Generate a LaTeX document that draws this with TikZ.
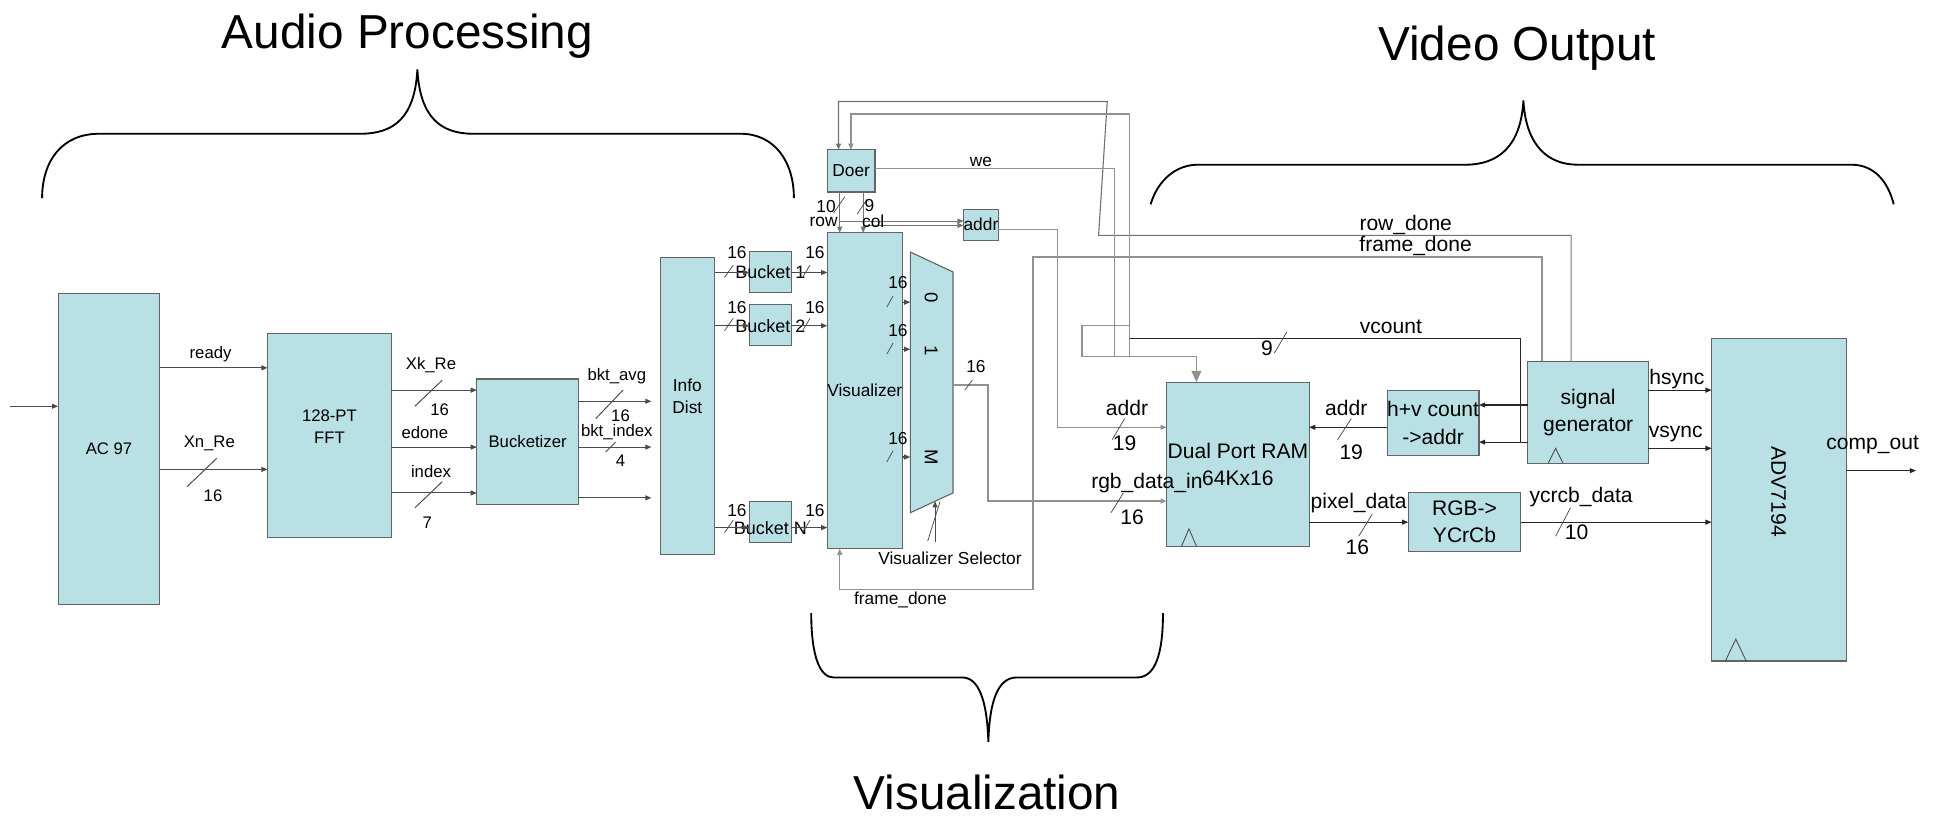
\documentclass[tikz,border=0pt]{standalone}
\usepackage{fontspec}
\setmainfont{Liberation Sans}
\usetikzlibrary{arrows.meta,calc}
\definecolor{boxfill}{RGB}{185,224,228}
\definecolor{boxline}{RGB}{100,100,100}
\definecolor{wdark}{RGB}{75,75,75}
\definecolor{wgray}{RGB}{145,145,145}
\definecolor{wmid}{RGB}{115,115,115}
\newcommand\fsL{\fontsize{13.5}{17}\selectfont}
\newcommand\fsA{\fontsize{14}{17}\selectfont}
\newcommand\fsK{\fontsize{14.5}{17}\selectfont}
\newcommand\fsB{\fontsize{17}{22}\selectfont}
\newcommand\fsH{\fontsize{38.5}{44}\selectfont}
\begin{document}
\begin{tikzpicture}[x=1pt,y=-1pt,
 blk/.style={draw=boxline,fill=boxfill,line width=0.9pt,inner sep=0pt,outer sep=0pt,anchor=north west,align=center},
 wire/.style={draw=wdark,line width=0.9pt},
 gwire/.style={draw=wgray,line width=1.1pt},
 mwire/.style={draw=wmid,line width=0.9pt},
 kwire/.style={draw=black!85,line width=0.9pt},
 arr/.style={-{Triangle[length=5pt,width=4pt]}},
 bigarr/.style={-{Triangle[length=9pt,width=8pt]}},
 lbl/.style={inner sep=0pt,font=\fsA,align=center},
 lblL/.style={inner sep=0pt,font=\fsL,align=center},
 lblB/.style={inner sep=0pt,font=\fsB,align=center},
 slashln/.style={draw=wdark,line width=0.8pt},
 brace/.style={draw=black,line width=1.5pt},
 clk/.style={draw=wdark,line width=0.7pt}
]
\useasboundingbox (0,0) rectangle (1568,660);

% ---------- braces and headers ----------
\draw[brace] (34,160) .. controls (34,130) and (50,108) .. (80,108) -- (291,108)
  .. controls (318,108) and (335,95) .. (337,56)
  .. controls (339,95) and (356,108) .. (382,108) -- (598,108)
  .. controls (625,108) and (641,130) .. (641,160);
\draw[brace] (929,165) .. controls (935,145) and (950,133) .. (967,133) -- (1183,133)
  .. controls (1210,133) and (1228,118) .. (1230,81)
  .. controls (1232,118) and (1250,133) .. (1274,133) -- (1495,133)
  .. controls (1512,133) and (1524,145) .. (1529,165);
\draw[brace] (655,495) .. controls (655,530) and (662,547) .. (673,547) -- (777,547)
  .. controls (790,547) and (797,565) .. (798,599)
  .. controls (799,565) and (806,547) .. (821,547) -- (918,547)
  .. controls (932,547) and (939,530) .. (939,495);
\node[font=\fsH,anchor=base,inner sep=0pt] (hA) at (329,39) {Audio Processing};
\node[font=\fsH,anchor=base,inner sep=0pt] (hV) at (1225,49) {Video Output};
\node[font=\fsH,anchor=base,inner sep=0pt] (hZ) at (797,654) {Visualization};

% ---------- blocks ----------
\node[blk,font=\fsL,minimum width=82pt,minimum height=251pt] (ac97) at (47,237) {AC 97};
\node[blk,minimum width=100pt,minimum height=165pt] (fft) at (216,269) {};
\node[lblL] (tfft) at (266,344.5) {128-PT\\FFT};
\node[blk,font=\fsL,minimum width=82pt,minimum height=101pt] (buck) at (385,306) {Bucketizer};
\node[blk,minimum width=44pt,minimum height=240pt] (info) at (533,208) {};
\node[lbl] (tinfo) at (555,320) {Info\\Dist};
\node[blk,minimum width=34pt,minimum height=33pt] (b1) at (605,203) {};
\node[blk,minimum width=34pt,minimum height=33pt] (b2) at (605,246) {};
\node[blk,minimum width=34pt,minimum height=33pt] (bN) at (605,405) {};
\node[blk,font=\fsA,minimum width=38.5pt,minimum height=255pt] (vis) at (668,188) {Visualizer};
\node[blk,font=\fsA,minimum width=38.5pt,minimum height=34pt] (doer) at (668,121) {Doer};
\node[blk,font=\fsA,minimum width=24.6pt,minimum height=25pt] (addr) at (778,169) {addr};
\filldraw[draw=boxline,fill=boxfill,line width=0.9pt] (735,203.5) -- (769.5,219.6) -- (769.5,398) -- (735,414) -- cycle;
\coordinate (muxL) at (735,300);
\coordinate (muxB) at (755,404.7);
\node[blk,font=\fsB,minimum width=115pt,minimum height=132.5pt] (ram) at (942,308.5) {Dual Port RAM\\64Kx16};
\node[blk,font=\fsB,minimum width=73.6pt,minimum height=53pt] (hv) at (1120,315) {h+v count\\->addr};
\node[blk,font=\fsB,minimum width=91pt,minimum height=47pt] (rgb) at (1137,398) {RGB->\\YCrCb};
\node[blk,font=\fsB,minimum width=97.4pt,minimum height=82.4pt] (sg) at (1233.6,291.6) {signal\\generator};
\node[blk,minimum width=108.6pt,minimum height=260.7pt] (adv) at (1382,273) {};
\node[lblB,rotate=-90] (tadv) at (1436,397) {ADV7194};

% bucket texts (overflow the boxes)
\node[inner sep=0pt,font=\fsK] (tb1) at (622,220) {Bucket 1};
\node[inner sep=0pt,font=\fsK] (tb2) at (622,263) {Bucket 2};
\node[inner sep=0pt,font=\fsK] (tbN) at (622,426) {Bucket N};

% mux texts
\node[inner sep=0pt,font=\fontsize{15}{17}\selectfont,rotate=-90] (m0) at (752,240) {0};
\node[inner sep=0pt,font=\fontsize{15}{17}\selectfont,rotate=-90] (m1) at (752,283) {1};
\node[inner sep=0pt,font=\fontsize{15}{17}\selectfont,rotate=-90] (mM) at (752,369) {M};

% clock triangles
\draw[clk] (954,441) -- (960,427) -- (966,441);
\draw[clk] (1250,374) -- (1256,362) -- (1262,374);
\draw[clk] (1393,534) -- (1401.5,516) -- (1410,534);

% ---------- audio wires ----------
\coordinate (ain) at (8,328);
\draw[wire,arr] (ain) -- (ain -| ac97.west);
\draw[wire,arr] (ac97.east |- 0,297) -- (fft.west |- 0,297);
\draw[wire,arr] (ac97.east |- 0,379) -- (fft.west |- 0,379);
\draw[wire,arr] (fft.east |- 0,315) -- (buck.west |- 0,315);
\draw[wire,arr] (fft.east |- 0,361) -- (buck.west |- 0,361);
\draw[wire,arr] (fft.east |- 0,398) -- (buck.west |- 0,398);
\draw[wire,arr] (buck.east |- 0,324) -- ($(info.west |- 0,324)+(-7,0)$);
\draw[wire,arr] (buck.east |- 0,361) -- ($(info.west |- 0,361)+(-7,0)$);
\draw[wire,arr] (buck.east |- 0,402) -- ($(info.west |- 0,402)+(-7,0)$);

\node[lblL] (l1) at (170,286) {ready};
\node[lblL] (l2) at (169,358) {Xn\_Re};
\node[lblL] (l3) at (172,400) {16};
\node[lblL] (l4) at (348,295) {Xk\_Re};
\node[lblL] (l5) at (355,331) {16};
\node[lblL] (l6) at (343,349) {edone};
\node[lblL] (l7) at (348,381) {index};
\node[lblL] (l8) at (345,422) {7};
\node[lblL] (l9) at (498,304) {bkt\_avg};
\node[lblL] (l10) at (501,336) {16};
\node[lblL] (l11) at (498,349) {bkt\_index};
\node[lblL] (l12) at (501,372) {4};
\draw[slashln] (151,393) -- (175,370);
\draw[slashln] (335,328) -- (357,307);
\draw[slashln] (335,410) -- (357,389);
\draw[slashln] (481,338) -- (503,315);
\draw[slashln] (489,365) -- (497,357);

% ---------- visualization wires ----------
\draw[wire,arr] (info.east |- 0,220) -- (b1.west |- 0,220);
\draw[wire,arr] (info.east |- 0,263) -- (b2.west |- 0,263);
\draw[wire,arr] (info.east |- 0,426) -- (bN.west |- 0,426);
\draw[wire,arr] (b1.east |- 0,220) -- (vis.west |- 0,220);
\draw[wire,arr] (b2.east |- 0,263) -- (vis.west |- 0,263);
\draw[wire,arr] (bN.east |- 0,426) -- (vis.west |- 0,426);
\foreach \yy/\ly [count=\i] in {220/204,263/248,426/412}{
  \node[lbl] (s16a\i) at (595,\ly) {16};
  \node[lbl] (s16b\i) at (658,\ly) {16};
  \draw[slashln,line width=0.6pt] (585,\yy+4) -- (592,\yy-6);
  \draw[slashln,line width=0.6pt] (648,\yy+4) -- (654,\yy-6);
}

\draw[mwire,arr] (doer.south -| 678,0) -- (vis.north -| 678,0);
\draw[mwire,arr] (doer.south -| 697,0) -- (vis.north -| 697,0);
\draw[mwire,arr] (678,178.5) -- (addr.west |- 0,178.5);
\draw[mwire,arr] (697,182) -- (addr.west |- 0,182);
\draw[slashln,line width=0.6pt] (673,172) -- (682,159);
\draw[slashln,line width=0.6pt] (692,173) -- (700,161);
\node[lbl] (t10) at (667,167) {10};
\node[lbl] (trow) at (665,179) {row};
\node[lbl] (t9) at (702,166) {9};
\node[lbl] (tcol) at (705,179) {col};

\draw[wire,arr] (vis.east |- 0,244) -- (muxL |- 0,244);
\draw[wire,arr] (vis.east |- 0,282) -- (muxL |- 0,282);
\draw[wire,arr] (vis.east |- 0,369) -- (muxL |- 0,369);
\foreach \yy/\ly [count=\i] in {244/228.5,282/267,369/354}{
  \node[lbl] (v16\i) at (725,\ly) {16};
  \draw[slashln,line width=0.6pt] (716,\yy+4) -- (721,\yy-5);
}

\coordinate (selb) at (755,438);
\draw[wire,arr] (selb) -- (muxB);
\draw[slashln,line width=0.6pt] (749,437) -- (759,405);
\node[lbl] (tsel) at (767,450.5) {Visualizer Selector};

\draw[gwire,arr] (769.5,311) -- (797.6,311) -- (797.6,404.6) -- (ram.west |- 0,404.6);
\node[lbl] (m16) at (788,296) {16};
\draw[slashln,line width=0.6pt] (779,315) -- (785,307);

\draw[gwire,arr] (addr.east |- 0,185.5) -- (854,185.5) -- (854,345) -- (ram.west |- 0,345);

% feedback loops
\draw[gwire,arr] (sg.north -| 1245,0) -- (1245,207.5) -- (834,207.5) -- (834,476) -- (678,476) -- (vis.south -| 678,0);
\node[lbl] (tfd) at (727,484) {frame\_done};
\draw[mwire,arr] (sg.north -| 1268.5,0) -- (1268.5,190) -- (887,190) -- (894,82) -- (677,82) -- (doer.north -| 677,0);
\draw[gwire,arr] (912,288) -- (912,92) -- (687,92) -- (doer.north -| 687,0);
\draw[gwire] (doer.east |- 0,136) -- (900,136) -- (900,288);
\node[lbl] (twe) at (792,131) {we};
\draw[gwire,bigarr] (912,263) -- (873.5,263) -- (873.5,288) -- (966,288) -- (ram.north -| 966,0);

% ---------- video wires ----------
\draw[kwire] (912,273) -- (1228,273) -- (1228,357);
\draw[kwire,arr] (sg.west |- 0,327) -- (hv.east |- 0,327);
\draw[kwire,arr] (sg.west |- 0,357) -- (hv.east |- 0,357);
\draw[kwire,arr] (hv.west |- 0,345) -- (ram.east |- 0,345);
\draw[kwire,arr] (ram.east |- 0,421.6) -- (rgb.west |- 0,421.6);
\draw[kwire,arr] (rgb.east |- 0,421.6) -- (adv.west |- 0,421.6);
\draw[kwire,arr] (sg.east |- 0,315) -- (adv.west |- 0,315);
\draw[kwire,arr] (sg.east |- 0,362) -- (adv.west |- 0,362);
\coordinate (cout) at (1547,380);
\draw[kwire,arr] (adv.east |- cout) -- (cout);

\node[lblB] (r1) at (910,329) {addr};
\node[lblB] (r2) at (908,358) {19};
\draw[slashln,line width=0.6pt] (898,355) -- (908,338);
\node[lblB] (r3) at (926,390) {rgb\_data\_in};
\node[lblB] (r4) at (914,418) {16};
\draw[slashln,line width=0.6pt] (897,414) -- (907,398);
\node[lblB] (r5) at (1135,182) {row\_done};
\node[lblB] (r6) at (1143,199) {frame\_done};
\node[lblB] (r7) at (1123,264) {vcount};
\node[lblB] (r8) at (1023,281) {9};
\draw[slashln,line width=0.6pt] (1029,285) -- (1039,268);
\node[lblB] (r9) at (1087,329) {addr};
\node[lblB] (r10) at (1091,365) {19};
\draw[slashln,line width=0.6pt] (1080,355) -- (1091,338);
\node[lblB] (r11) at (1097,406) {pixel\_data};
\node[lblB] (r12) at (1096,441.5) {16};
\draw[slashln,line width=0.6pt] (1097,433) -- (1108,415);
\node[lblB] (r13) at (1276.6,401) {ycrcb\_data};
\node[lblB] (r14) at (1273,430) {10};
\draw[slashln,line width=0.6pt] (1256,433) -- (1268,410);
\node[lblB] (r15) at (1354,306) {hsync};
\node[lblB] (r16) at (1353,350.5) {vsync};
\node[lblB] (r17) at (1512,359.5) {comp\_out};
\end{tikzpicture}
\end{document}
